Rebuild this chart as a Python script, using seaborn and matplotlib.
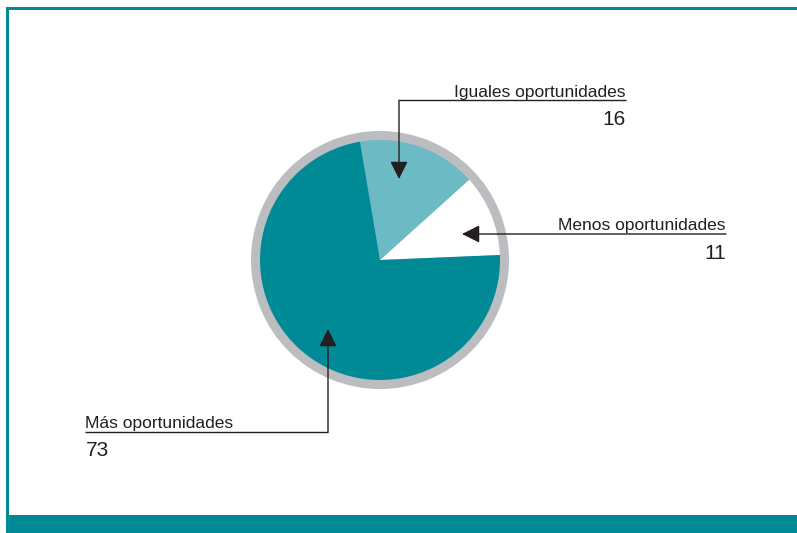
import numpy as np
import seaborn as sns
import matplotlib.pyplot as plt
from matplotlib.patches import Rectangle

# data
categories = ["Menos oportunidades", "Iguales oportunidades", "Más oportunidades"]
values = [11, 16, 73]
slice_colors = ["#ffffff", "#6cbac3", "#008a96"]

W, H = 797, 533
TEAL = "#008a96"
RIM = "#bcbdc0"
INK = "#231f20"


def Y(y):
    # pixel row (from top) to data y (from bottom)
    return H - y


sns.set_theme(style="white")
plt.rcParams['font.family'] = ['Liberation Sans', 'DejaVu Sans']

fig = plt.figure(figsize=(W / 100, H / 100), dpi=100)
ax = fig.add_axes([0, 0, 1, 1])

# frame: thin teal lines left and top, thick band at bottom
ax.add_patch(Rectangle((6, Y(515)), 3, 508, color=TEAL, lw=0))
ax.add_patch(Rectangle((6, Y(10)), W - 6, 3, color=TEAL, lw=0))
ax.add_patch(Rectangle((6, 0), W - 6, H - 515, color=TEAL, lw=0))

# pie with gray rim
cx, cy = 380, Y(260)
ax.pie([1], colors=[RIM], radius=129, center=(cx, cy), frame=True,
       wedgeprops=dict(linewidth=0))
ax.pie(values, colors=slice_colors, radius=120, center=(cx, cy),
       startangle=2.4, counterclock=True, frame=True,
       wedgeprops=dict(linewidth=0))
ax.set_xlim(0, W)
ax.set_ylim(0, H)
ax.set_aspect('equal')
ax.axis('off')

line_kw = dict(color=INK, lw=1.0, solid_capstyle='butt')
arrow_kw = dict(arrowstyle='-|>,head_length=0.9,head_width=0.45', color=INK,
                lw=1.0, shrinkA=0, shrinkB=0)
lab_fs = 12.5
num_fs = 15

# Iguales oportunidades
ax.plot([399, 626], [Y(100), Y(100)], **line_kw)
ax.annotate('', xy=(399, Y(179)), xytext=(399, Y(100)), arrowprops=arrow_kw)
ax.text(626, Y(97), categories[1], ha='right', va='baseline', fontsize=lab_fs, color=INK)
ax.text(626, Y(125), str(values[1]), ha='right', va='baseline', fontsize=num_fs, color=INK)

# Menos oportunidades
ax.annotate('', xy=(462, Y(234)), xytext=(726, Y(234)), arrowprops=arrow_kw)
ax.text(726, Y(230), categories[0], ha='right', va='baseline', fontsize=lab_fs, color=INK)
ax.text(726, Y(259), str(values[0]), ha='right', va='baseline', fontsize=num_fs, color=INK)

# Más oportunidades
ax.plot([85, 328], [Y(432), Y(432)], **line_kw)
ax.annotate('', xy=(328, Y(329)), xytext=(328, Y(432)), arrowprops=arrow_kw)
ax.text(85, Y(428), categories[2], ha='left', va='baseline', fontsize=lab_fs, color=INK)
ax.text(86, Y(456), str(values[2]), ha='left', va='baseline', fontsize=num_fs, color=INK)

fig.savefig('out.png', dpi=100, facecolor='white')
